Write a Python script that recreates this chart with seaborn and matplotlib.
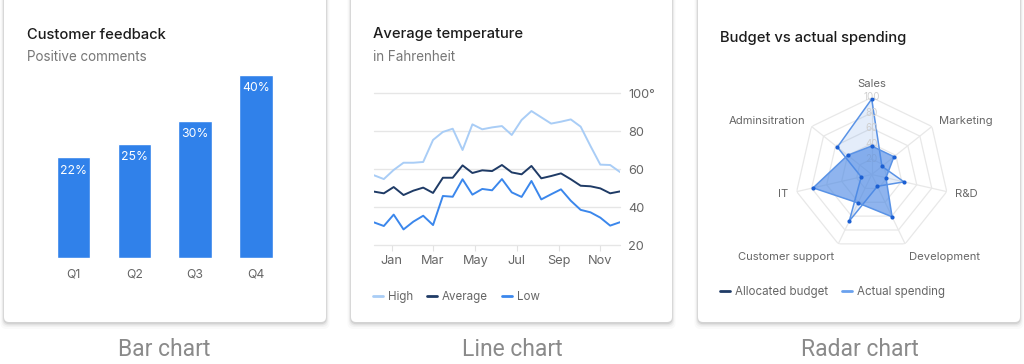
import numpy as np
import pandas as pd
import matplotlib
matplotlib.use("Agg")
import matplotlib.pyplot as plt
import seaborn as sns
from matplotlib.patches import FancyBboxPatch
from matplotlib.lines import Line2D

# ---------------- data ----------------
quarters = ["Q1", "Q2", "Q3", "Q4"]
positive_pct = [22, 25, 30, 40]

temp_high = [56.7, 54.7, 59.5, 63.3, 63.3, 63.7, 75.3, 79.5, 81.2, 70.0, 83.5, 80.9, 81.9,
             82.6, 77.9, 85.8, 90.5, 87.2, 83.9, 84.9, 86.1, 82.3, 72.1, 62.3, 62.1, 58.4]
temp_avg = [48.1, 47.2, 50.5, 46.3, 48.6, 50.2, 47.4, 55.4, 55.4, 61.9, 57.9, 59.3, 58.9,
            62.1, 58.2, 57.2, 61.6, 55.1, 56.3, 57.7, 54.6, 51.2, 50.9, 49.8, 47.2, 48.2]
temp_low = [31.9, 30.0, 36.0, 28.2, 32.3, 35.4, 30.5, 45.8, 45.4, 54.6, 46.5, 49.5, 48.8,
            54.7, 47.7, 45.3, 53.7, 44.0, 46.7, 49.3, 43.3, 38.5, 37.2, 34.4, 30.2, 32.0]
month_labels = ["Jan", "Mar", "May", "Jul", "Sep", "Nov"]
month_tick_pos = [1.8, 6.0, 10.3, 14.5, 18.8, 23.0]
temp_ticks = [20, 40, 60, 80, 100]
temp_tick_labels = ["20", "40", "60", "80", "100°"]

departments = ["Sales", "Marketing", "R&D", "Development", "Customer support", "IT", "Adminsitration"]
allocated_budget = [37, 37, 19, 61, 41, 78, 40]
actual_spending = [98, 17, 43, 17, 67, 14, 57]
radar_ticks = [20, 40, 60, 80, 100]

# ---------------- style ----------------
sns.set_theme(style="white")
plt.rcParams["font.family"] = ["Inter", "DejaVu Sans"]

W, H = 1024, 364
fig = plt.figure(figsize=(W / 100, H / 100), dpi=100)
fig.patch.set_facecolor("white")


def fx(x):
    return x / W


def fy(y):
    return 1 - y / H


def rect(x0, y0, x1, y1):
    return [fx(x0), fy(y1), fx(x1) - fx(x0), fy(y0) - fy(y1)]


# background with cards
bg = fig.add_axes([0, 0, 1, 1], zorder=-10)
bg.set_xlim(0, W)
bg.set_ylim(H, 0)
bg.axis("off")
cards = [(4, 326), (351, 672), (698, 1020)]
for x0, x1 in cards:
    y0, y1 = -12, 322
    for k, a in [(6, 0.018), (4, 0.03), (2.5, 0.05), (1.2, 0.08)]:
        bg.add_patch(FancyBboxPatch((x0 - k * 0.6, y0), (x1 - x0) + k * 1.2, (y1 - y0) + k + 1,
                                    boxstyle="round,pad=0,rounding_size=6",
                                    facecolor="#000000", edgecolor="none", alpha=a))
    bg.add_patch(FancyBboxPatch((x0, y0), x1 - x0, y1 - y0,
                                boxstyle="round,pad=0,rounding_size=5",
                                facecolor="white", edgecolor="none"))

TITLE_C = "#1c1c1c"
SUB_C = "#777777"
LAB_C = "#666666"

# captions
for cx, txt in [(164, "Bar chart"), (512, "Line chart"), (860, "Radar chart")]:
    fig.text(fx(cx), fy(349), txt, ha="center", va="center", fontsize=16.5,
             color="#8a8a8a", family=["Roboto", "DejaVu Sans"])

# ---------------- bar chart ----------------
fig.text(fx(27), fy(35), "Customer feedback", fontsize=10.6, color=TITLE_C,
         fontweight="medium", va="center", ha="left")
fig.text(fx(27), fy(57), "Positive comments", fontsize=9.7, color=SUB_C,
         va="center", ha="left")

ax1 = fig.add_axes(rect(43, 75, 286.4, 258.3))
bar_df = pd.DataFrame({"quarter": quarters, "pct": positive_pct})
sns.barplot(data=bar_df, x="quarter", y="pct", color="#3081ea", saturation=1,
            width=0.55, ax=ax1)
ax1.set_ylim(0, 40)
ax1.set_xlim(-0.5, 3.5)
for c in ax1.containers:
    ax1.bar_label(c, labels=[f"{v}%" for v in positive_pct], padding=-14,
                  color="white", fontsize=8.8)
ax1.set_xlabel("")
ax1.set_ylabel("")
ax1.set_yticks([])
ax1.tick_params(axis="x", length=0, pad=7, labelsize=8.8, labelcolor=LAB_C)
sns.despine(ax=ax1, left=True, bottom=True)
ax1.patch.set_alpha(0)

# ---------------- line chart ----------------
fig.text(fx(373), fy(34), "Average temperature", fontsize=10.6, color=TITLE_C,
         fontweight="medium", va="center", ha="left")
fig.text(fx(373), fy(57), "in Fahrenheit", fontsize=9.7, color=SUB_C,
         va="center", ha="left")

ax2 = fig.add_axes(rect(374, 93, 620, 245))
n = len(temp_high)
line_df = pd.DataFrame({
    "idx": list(range(n)) * 3,
    "temp": temp_high + temp_avg + temp_low,
    "series": ["High"] * n + ["Average"] * n + ["Low"] * n,
})
palette = {"High": "#a9cdf6", "Average": "#1f3b66", "Low": "#3b87ec"}
sns.lineplot(data=line_df, x="idx", y="temp", hue="series", palette=palette,
             linewidth=1.4, ax=ax2, legend=False)
ax2.set_xlim(0, n - 1)
ax2.set_ylim(20, 100)
ax2.set_xlabel("")
ax2.set_ylabel("")
ax2.yaxis.tick_right()
ax2.set_yticks(temp_ticks)
ax2.set_yticklabels(temp_tick_labels)
ax2.set_xticks(month_tick_pos)
ax2.set_xticklabels(month_labels)
ax2.tick_params(axis="y", length=0, pad=6, labelsize=9.2, labelcolor=LAB_C)
ax2.tick_params(axis="x", length=4, width=0.8, color="#e2e2e2", pad=3,
                labelsize=9.2, labelcolor=LAB_C, bottom=True)
ax2.grid(axis="y", color="#e6e6e6", linewidth=1)
ax2.grid(axis="x", visible=False)
for s in ax2.spines.values():
    s.set_visible(False)
for ln in ax2.get_ygridlines():
    ln.set_clip_on(False)
ax2.patch.set_alpha(0)

handles = [Line2D([], [], color=palette[k], lw=2) for k in ["High", "Average", "Low"]]
fig.legend(handles, ["High", "Average", "Low"], loc="center left",
           bbox_to_anchor=(fx(373), fy(297)), ncol=3, frameon=False, fontsize=8.3,
           labelcolor=LAB_C, handlelength=0.9, handletextpad=0.4, columnspacing=1.2,
           borderaxespad=0, borderpad=0)

# ---------------- radar chart ----------------
fig.text(fx(720), fy(38), "Budget vs actual spending", fontsize=10.6, color=TITLE_C,
         fontweight="medium", va="center", ha="left")

cx, cy, R = 871.7, 174.5, 77
ax3 = fig.add_axes(rect(cx - R, cy - R, cx + R, cy + R), projection="polar")
ax3.set_theta_offset(np.pi / 2)
ax3.set_theta_direction(-1)
ax3.set_ylim(0, 100)
ax3.grid(False)
ax3.spines["polar"].set_visible(False)
ax3.set_xticks([])
ax3.set_yticks([])
ax3.patch.set_alpha(0)

k = len(departments)
theta = np.linspace(0, 2 * np.pi, k, endpoint=False)
theta_c = np.concatenate([theta, theta[:1]])
grid_c = "#e8e8e8"
for r in radar_ticks:
    ax3.plot(theta_c, [r] * (k + 1), color=grid_c, lw=0.9, zorder=1)
for t in theta:
    ax3.plot([t, t], [0, 100], color=grid_c, lw=0.9, zorder=1)

edge_c = "#5a93e6"
act = actual_spending + actual_spending[:1]
alloc = allocated_budget + allocated_budget[:1]
ax3.fill(theta_c, act, color="#5a93e6", alpha=0.16, zorder=2, lw=0)
ax3.plot(theta_c, act, color=edge_c, lw=1.1, zorder=3)
ax3.fill(theta_c, alloc, color="#4a87e4", alpha=0.62, zorder=4, lw=0)
ax3.plot(theta_c, alloc, color=edge_c, lw=1.1, zorder=5)
ax3.scatter(theta, actual_spending, s=9, color="#1b5fd2", zorder=6, lw=0)
ax3.scatter(theta, allocated_budget, s=9, color="#1b5fd2", zorder=6, lw=0)

for r in radar_ticks:
    ax3.text(0, r, str(r), ha="center", va="center", fontsize=7,
             color="#cfcfcf", zorder=3)

aligns = [("center", "bottom"), ("left", "center"), ("left", "center"),
          ("left", "top"), ("right", "top"), ("right", "center"), ("right", "center")]
for t, lab, (ha, va) in zip(theta, departments, aligns):
    ax3.text(t, 111, lab, ha=ha, va=va, fontsize=8.1, color=LAB_C, clip_on=False)

h2 = [Line2D([], [], color="#1f3b66", lw=2), Line2D([], [], color="#6aa1ee", lw=2)]
fig.legend(h2, ["Allocated budget", "Actual spending"], loc="center left",
           bbox_to_anchor=(fx(720), fy(292)), ncol=2, frameon=False, fontsize=8.3,
           labelcolor=LAB_C, handlelength=0.9, handletextpad=0.4, columnspacing=1.2,
           borderaxespad=0, borderpad=0)

fig.savefig("out.png", dpi=100, facecolor="white")
